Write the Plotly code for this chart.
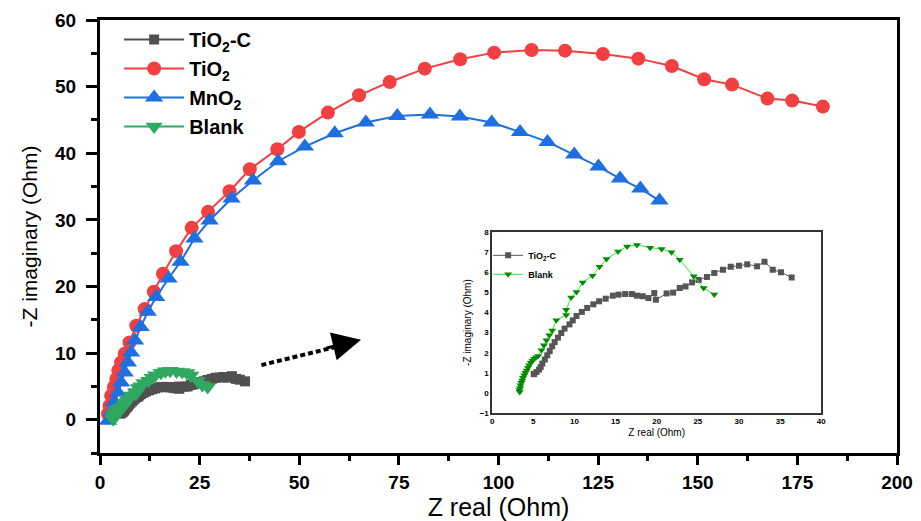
import plotly.graph_objects as go

# ---------------- data ----------------
tio2_x = [2.0, 2.4, 2.8, 3.5, 4.1, 4.6, 5.3, 6.2, 7.4, 9.1, 11.2, 13.5, 15.8, 19.1, 23.0, 27.1,
          32.5, 37.6, 44.5, 49.9, 57.2, 65.0, 72.7, 81.5, 90.4, 98.9, 108.3, 116.7, 126.2, 135.1,
          143.5, 151.6, 158.6, 167.5, 173.7, 181.4]
tio2_y = [0.9, 2.1, 3.6, 4.9, 6.1, 7.4, 8.6, 9.9, 11.6, 14.1, 16.6, 19.2, 21.9, 25.3, 28.8, 31.2,
          34.3, 37.6, 40.6, 43.2, 46.1, 48.7, 50.7, 52.7, 54.1, 55.1, 55.5, 55.4, 54.9, 54.2,
          53.1, 51.1, 50.3, 48.2, 47.9, 47.0]

mno2_x = [2.0, 2.8, 3.6, 4.5, 5.3, 6.2, 7.0, 7.8, 8.8, 10.2, 12.0, 14.1, 17.2, 20.2, 23.7, 27.5,
          33.0, 38.4, 44.7, 51.4, 58.9, 66.7, 74.6, 82.8, 90.3, 98.3, 105.4, 112.3, 119.0, 125.1,
          130.5, 135.6, 140.4]
mno2_y = [-0.15, 1.1, 2.6, 4.1, 5.6, 7.1, 8.6, 10.1, 11.9, 13.9, 16.2, 18.4, 21.2, 23.7, 27.2, 29.9,
          33.2, 35.9, 38.8, 41.0, 43.0, 44.6, 45.6, 45.8, 45.5, 44.6, 43.2, 41.7, 39.8, 38.0,
          36.2, 34.7, 32.9]

tio2c_x = [5.05, 5.1, 5.4, 5.7, 5.9, 6.1, 6.4, 6.7, 7.0, 7.3, 7.6, 8.0, 8.4, 8.8, 9.4, 9.8, 10.25,
           10.9, 11.55, 12.3, 13.0, 13.8, 14.67, 15.36, 16.17, 16.98, 17.6, 18.3, 19.0, 19.7, 19.9,
           21.2, 22.0, 22.8, 23.5, 24.3, 25.1, 26.1, 27.0, 28.05, 29.0, 30.0, 31.0, 32.2, 33.1,
           34.1, 35.1, 36.4]
tio2c_y = [0.95, 0.93, 1.04, 1.16, 1.29, 1.46, 1.66, 1.87, 2.08, 2.32, 2.53, 2.75, 2.98, 3.2, 3.41,
           3.61, 3.83, 4.03, 4.23, 4.41, 4.56, 4.69, 4.84, 4.89, 4.92, 4.92, 4.84, 4.81, 4.72, 4.97,
           4.64, 4.95, 4.99, 5.22, 5.3, 5.5, 5.62, 5.77, 5.97, 6.13, 6.28, 6.33, 6.4, 6.3, 6.53,
           6.13, 6.0, 5.75]

blank_x = [3.35, 3.3, 3.4, 3.45, 3.55, 3.65, 3.75, 3.9, 4.05, 4.2, 4.35, 4.5, 4.7, 4.9, 5.1, 5.35,
           5.6, 6.0, 6.3, 6.6, 6.95, 7.3, 7.8, 9.0, 9.0, 9.6, 10.25, 11.0, 12.2, 13.05, 13.9, 15.3,
           16.4, 17.6, 19.2, 20.6, 21.8, 22.8, 24.5, 25.7, 27.0]
blank_y = [0.05, 0.15, 0.25, 0.38, 0.5, 0.62, 0.75, 0.88, 1.0, 1.12, 1.25, 1.38, 1.5, 1.6, 1.7, 1.78,
           1.84, 2.12, 2.37, 2.62, 2.87, 3.11, 3.62, 3.88, 4.14, 4.75, 5.02, 5.5, 5.83, 6.28, 6.66,
           7.04, 7.29, 7.36, 7.23, 7.16, 7.0, 6.63, 5.8, 5.22, 4.9]

main_x_ticks = [0, 25, 50, 75, 100, 125, 150, 175, 200]
main_y_ticks = [0, 10, 20, 30, 40, 50, 60]
inset_x_ticks = [0, 5, 10, 15, 20, 25, 30, 35, 40]
inset_y_ticks = [-1, 0, 1, 2, 3, 4, 5, 6, 7, 8]

# ---------------- styles ----------------
FONT = "Liberation Sans, Arial, sans-serif"
C_GRAY = "#505050"
C_RED = "#F23F42"
C_BLUE = "#1E6FE0"
C_GREEN = "#2FA862"

fig = go.Figure()

fig.add_trace(go.Scatter(x=tio2c_x, y=tio2c_y, mode="lines+markers", name="TiO<sub>2</sub>-C",
                         line=dict(color=C_GRAY, width=2),
                         marker=dict(symbol="square", size=10, color=C_GRAY)))
fig.add_trace(go.Scatter(x=tio2_x, y=tio2_y, mode="lines+markers", name="TiO<sub>2</sub>",
                         line=dict(color=C_RED, width=2),
                         marker=dict(symbol="circle", size=14, color=C_RED)))
fig.add_trace(go.Scatter(x=mno2_x, y=mno2_y, mode="lines+markers", name="MnO<sub>2</sub>",
                         line=dict(color=C_BLUE, width=2),
                         marker=dict(symbol="triangle-up", size=16, color=C_BLUE)))
fig.add_trace(go.Scatter(x=blank_x, y=blank_y, mode="lines+markers", name="Blank",
                         line=dict(color=C_GREEN, width=2),
                         marker=dict(symbol="triangle-down", size=15, color=C_GREEN)))

# inset
fig.add_trace(go.Scatter(x=tio2c_x, y=tio2c_y, mode="lines+markers", name="TiO<sub>2</sub>-C",
                         xaxis="x2", yaxis="y2", legend="legend2",
                         line=dict(color="#5a5a5a", width=1),
                         marker=dict(symbol="square", size=6, color="#555555")))
fig.add_trace(go.Scatter(x=blank_x, y=blank_y, mode="lines+markers", name="Blank",
                         xaxis="x2", yaxis="y2", legend="legend2",
                         line=dict(color="#33EE33", width=1),
                         marker=dict(symbol="triangle-down", size=7, color="#008C00")))

# arrow (dashed shaft + head)
fig.add_shape(type="line", xref="x", yref="y", x0=40.5, y0=8.2, x1=59.0, y1=10.9,
              line=dict(color="black", width=4, dash="5px,3px"))
fig.add_annotation(x=65.5, y=12.0, ax=56.5, ay=10.7, xref="x", yref="y", axref="x", ayref="y",
                   text="", showarrow=True, arrowhead=2, arrowsize=1.9, arrowwidth=3,
                   arrowcolor="black")

axis_common = dict(showgrid=False, zeroline=False, showline=True, linecolor="black",
                   linewidth=3, mirror=True, ticks="outside", tickwidth=3,
                   tickcolor="black", automargin=False,
                   tickfont=dict(family=FONT, size=19, color="black", weight="bold"))

fig.update_layout(
    width=921, height=521,
    margin=dict(l=100, r=24, t=20, b=68),
    paper_bgcolor="white", plot_bgcolor="white",
    font=dict(family=FONT, color="black"),
    xaxis=dict(range=[0, 200], tickvals=main_x_ticks, ticklen=9, ticklabelstandoff=1,
               minor=dict(dtick=12.5, ticks="outside", ticklen=5, tickwidth=3, tickcolor="black"),
               title=dict(text="Z real (Ohm)", font=dict(family=FONT, size=25), standoff=14),
               **axis_common),
    yaxis=dict(range=[-5, 60], tickvals=main_y_ticks, ticklen=11, ticklabelstandoff=6,
               minor=dict(dtick=5, ticks="outside", ticklen=6, tickwidth=3, tickcolor="black"),
               title=dict(text="-Z imaginary (Ohm)", font=dict(family=FONT, size=21), standoff=12),
               **axis_common),
    xaxis2=dict(domain=[0.492, 0.905], anchor="y2", range=[0, 40], tickvals=inset_x_ticks,
                showgrid=False, zeroline=False, showline=True, mirror=True,
                linecolor="#333333", linewidth=1.5, ticks="",
                tickfont=dict(family=FONT, size=8, color="black", weight="bold"),
                title=dict(text="Z real (Ohm)", font=dict(family=FONT, size=10), standoff=4)),
    yaxis2=dict(domain=[0.0924, 0.51], anchor="x2", range=[-1, 8], tickvals=inset_y_ticks,
                showgrid=False, zeroline=False, showline=True, mirror=True,
                linecolor="#333333", linewidth=1.5, ticks="",
                tickfont=dict(family=FONT, size=8, color="black", weight="bold"),
                title=dict(text="-Z imaginary (Ohm)", font=dict(family=FONT, size=10), standoff=6)),
    legend=dict(x=0.024, y=1.0, xanchor="left", yanchor="top", bgcolor="rgba(0,0,0,0)",
                itemwidth=60, font=dict(family=FONT, size=20, color="black", weight="bold"),
                tracegroupgap=0),
    legend2=dict(x=0.487, y=0.49, xanchor="left", yanchor="top", bgcolor="rgba(0,0,0,0)",
                 itemwidth=30, font=dict(family=FONT, size=9, color="black", weight="bold"),
                 tracegroupgap=0),
    showlegend=True,
)

fig.write_html("out.html", config={"displayModeBar": False},
               post_script="document.body.style.margin='0';")
